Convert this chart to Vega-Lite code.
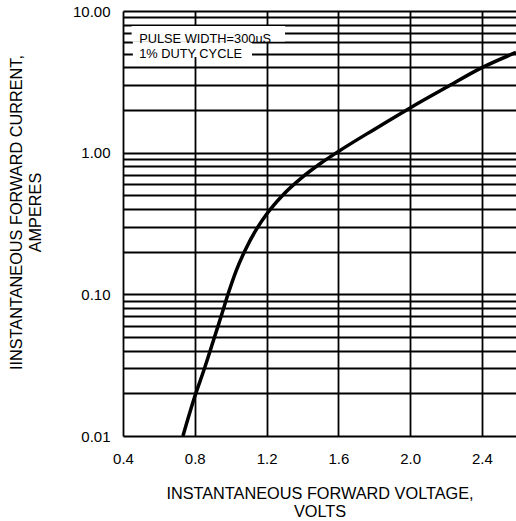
{
  "$schema": "https://vega.github.io/schema/vega-lite/v6.json",
  "width": 393,
  "height": 425,
  "autosize": {"type": "none"},
  "padding": {"left": 123, "top": 11, "right": 0, "bottom": 85},
  "config": {"view": {"stroke": null}, "font": "Liberation Sans"},
  "data": {
    "values": [
      {"volts": 0.734, "amps": 0.01},
      {"volts": 0.80, "amps": 0.019},
      {"volts": 0.85, "amps": 0.029},
      {"volts": 0.91, "amps": 0.05},
      {"volts": 0.95, "amps": 0.072},
      {"volts": 0.985, "amps": 0.1},
      {"volts": 1.03, "amps": 0.146},
      {"volts": 1.08, "amps": 0.204},
      {"volts": 1.15, "amps": 0.297},
      {"volts": 1.2, "amps": 0.368},
      {"volts": 1.29, "amps": 0.501},
      {"volts": 1.4, "amps": 0.672},
      {"volts": 1.5, "amps": 0.838},
      {"volts": 1.59, "amps": 1.0},
      {"volts": 1.8, "amps": 1.46},
      {"volts": 2.0, "amps": 2.07},
      {"volts": 2.2, "amps": 2.88},
      {"volts": 2.4, "amps": 3.98},
      {"volts": 2.59, "amps": 5.1}
    ]
  },
  "layer": [
    {
      "mark": {"type": "line", "color": "black", "strokeWidth": 3.5, "interpolate": "monotone", "clip": true},
      "encoding": {
        "x": {
          "field": "volts",
          "type": "quantitative",
          "scale": {"domain": [0.4, 2.59], "nice": false, "zero": false},
          "axis": {
            "values": [0.4, 0.6, 0.8, 1.0, 1.2, 1.4, 1.6, 1.8, 2.0, 2.2, 2.4],
            "grid": true,
            "gridColor": "black",
            "gridWidth": 1.8,
            "gridOpacity": 1,
            "domain": false,
            "ticks": false,
            "labelExpr": "round(datum.value * 10) % 4 == 0 ? format(datum.value, '.1f') : ''",
            "labelFlush": false,
            "labelOverlap": false,
            "labelFontSize": 15,
            "labelColor": "black",
            "labelPadding": 15,
            "title": ["INSTANTANEOUS FORWARD VOLTAGE,", "VOLTS"],
            "titleFontSize": 16.3,
            "titleFontWeight": "normal",
            "titleColor": "black",
            "titleBaseline": "top",
            "titleY": 49,
            "titleLineHeight": 18.5
          }
        },
        "y": {
          "field": "amps",
          "type": "quantitative",
          "scale": {"type": "log", "domain": [0.01, 10], "nice": false},
          "axis": {
            "values": [0.01, 0.02, 0.03, 0.04, 0.05, 0.06, 0.07, 0.08, 0.09, 0.1, 0.2, 0.3, 0.4, 0.5, 0.6, 0.7, 0.8, 0.9, 1, 2, 3, 4, 5, 6, 7, 8, 9, 10],
            "grid": true,
            "gridColor": "black",
            "gridWidth": 1.8,
            "gridOpacity": 1,
            "domain": false,
            "ticks": false,
            "labelExpr": "(datum.value == 0.01 || datum.value == 0.1 || datum.value == 1 || datum.value == 10) ? format(datum.value, '.2f') : ''",
            "labelOverlap": false,
            "labelFontSize": 15,
            "labelColor": "black",
            "labelPadding": 13,
            "title": ["IINSTANTANEOUS FORWARD CURRENT,", "AMPERES"],
            "titleFontSize": 16.3,
            "titleFontWeight": "normal",
            "titleColor": "black",
            "titleAngle": -90,
            "titleAlign": "center",
            "titleBaseline": "top",
            "titleX": -115,
            "titleY": 201,
            "titleLineHeight": 19.5
          }
        }
      }
    },
    {
      "data": {"values": [{}]},
      "mark": {"type": "rect", "color": "white", "opacity": 1},
      "encoding": {
        "x": {"datum": 0.448, "type": "quantitative"},
        "x2": {"datum": 1.303},
        "y": {"datum": 7.84, "type": "quantitative"},
        "y2": {"datum": 6.1}
      }
    },
    {
      "data": {"values": [{}]},
      "mark": {"type": "rect", "color": "white", "opacity": 1},
      "encoding": {
        "x": {"datum": 0.455, "type": "quantitative"},
        "x2": {"datum": 1.119},
        "y": {"datum": 6.1, "type": "quantitative"},
        "y2": {"datum": 4.73}
      }
    },
    {
      "data": {"values": [{}]},
      "mark": {"type": "text", "align": "left", "baseline": "middle", "fontSize": 12.8, "lineHeight": 14.6, "color": "black"},
      "encoding": {
        "x": {"datum": 0.49, "type": "quantitative"},
        "y": {"datum": 6.33, "type": "quantitative"},
        "text": {"value": ["PULSE WIDTH=300uS", "1% DUTY CYCLE"]}
      }
    }
  ]
}
